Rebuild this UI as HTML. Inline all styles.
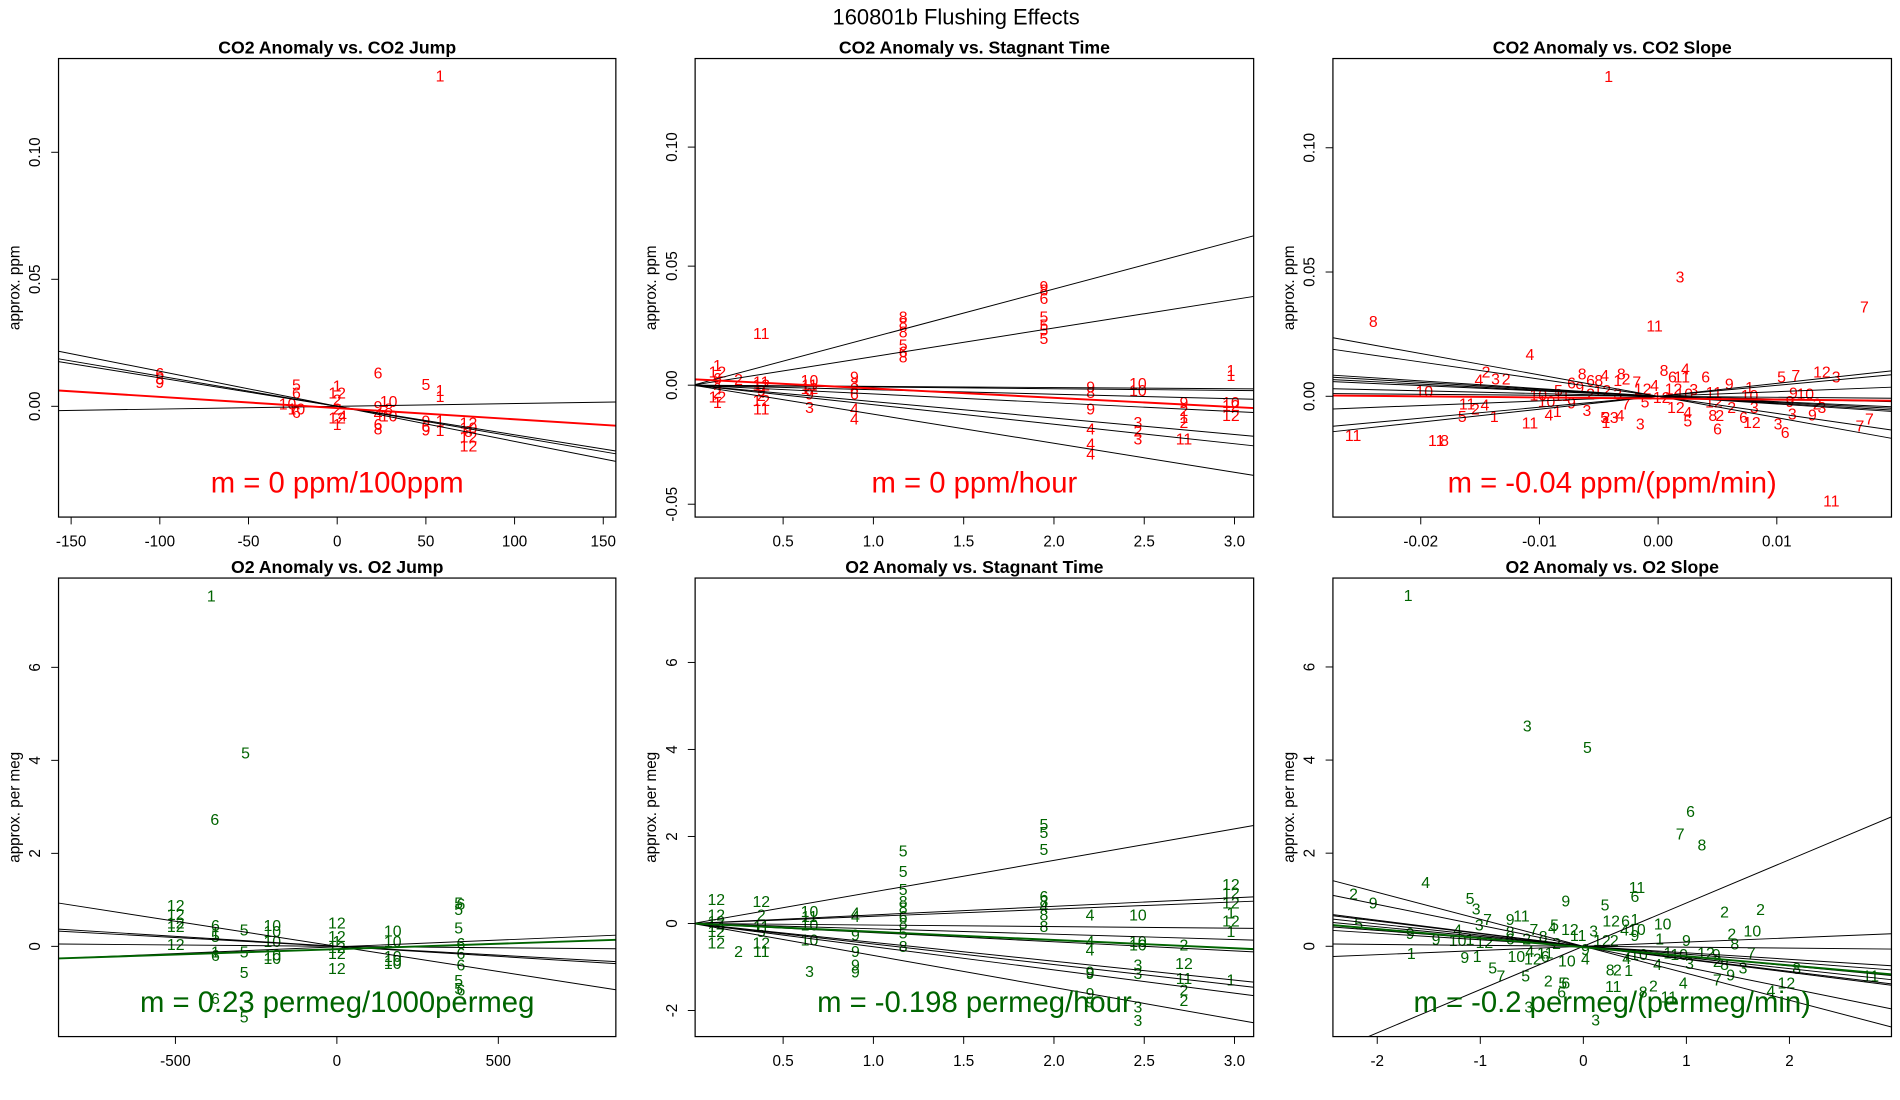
<!DOCTYPE html>
<html><head><meta charset="utf-8"><style>
html,body{margin:0;padding:0;background:#fff;}
svg{display:block;font-family:"Liberation Sans",Arial,sans-serif;}
</style></head><body>
<svg id="chart" width="1900" height="1100" viewBox="0 0 1558 902" preserveAspectRatio="none" xmlns="http://www.w3.org/2000/svg">
<text x="784" y="20" text-anchor="middle" font-size="18">160801b   Flushing Effects</text>
</svg>
<script>
// ---------- Panel 1: CO2 Anomaly vs CO2 Jump ----------
const p1X=[58,-100,-100,-100,-23,-23,-28,-23,-23,0,0,0,0,0,0,3,23,23,23,23,23,29,29,29,50,50,50,50,58,58,58,58,74,74,74,74,74];
const p1Y=[0.130,0.0129,0.0108,0.0094,0.0083,0.0053,0.001,-0.001,-0.0024,0.008,0.0053,0.0025,-0.001,-0.0047,-0.0072,-0.0038,0.0132,0,-0.003,-0.0072,-0.009,0.0018,-0.001,-0.0038,0.0085,-0.0058,-0.0079,-0.0093,0.0063,0.0039,-0.0058,-0.0096,-0.0065,-0.0086,-0.010,-0.012,-0.0156];
const p1L=["1","6","8","9","5","6","10","10","6","1","12","2","2","12","1","4","6","9","4","6","8","10","8","10","5","9","6","9","1","1","1","1","12","10","8","12","12"];
const p1Slopes=[-0.000138,-0.000119,-0.000112,0.0000108];
const p1Ints=[0,0,0,0];
const p1Fit=[-0.0007,-0.0000441];
// ---------- Panel 2: CO2 Anomaly vs Stagnant Time ----------
const p2X=[0.379,0.136,0.136,0.136,0.136,0.136,0.136,0.136,0.253,0.379,0.379,0.379,0.379,0.379,0.379,0.646,0.646,0.646,0.646,0.646,0.895,0.895,0.895,0.895,0.895,0.895,1.165,1.165,1.165,1.165,1.165,1.165,1.944,1.944,1.944,1.944,1.944,1.944,1.944,2.203,2.203,2.203,2.203,2.203,2.203,2.465,2.465,2.465,2.465,2.465,2.72,2.72,2.72,2.72,2.72,2.98,2.98,2.98,2.98,2.98];
const p2Y=[0.0217,0.0083,0.0055,0.0027,0,-0.003,-0.005,-0.0072,0.0024,0.0013,0,-0.0023,-0.0044,-0.0065,-0.010,0.002,0,-0.0015,-0.0037,-0.0093,0.0034,0.0006,-0.0015,-0.0037,-0.010,-0.0142,0.0287,0.0259,0.0224,0.0168,0.014,0.0118,0.0414,0.040,0.0365,0.0287,0.0252,0.0231,0.0196,-0.0008,-0.003,-0.010,-0.0185,-0.0248,-0.029,0.0006,-0.0023,-0.0156,-0.0192,-0.0227,-0.0072,-0.0107,-0.0135,-0.0156,-0.0227,0.0062,0.004,-0.0072,-0.0086,-0.0128];
const p2L=["11","1","12","6","4","2","12","1","2","11","12","9","2","12","11","10","11","12","9","3","9","3","8","6","4","4","8","8","8","5","6","8","9","8","6","5","5","5","5","9","8","9","4","4","4","10","10","3","2","3","9","2","1","2","11","1","1","10","12","12"];
const p2Slopes=[0.0202,0.012,-0.0005,-0.00074,-0.0019,-0.0037,-0.0069,-0.0082,-0.0122];
const p2Ints=[0,0,0,0,0,0,0,0,0];
const p2Fit=[0.0025,-0.0039];
// ---------- Panel 3: CO2 Anomaly vs CO2 Slope ----------
const p3X=[-0.00417,0.00185,0.01738,-0.024,-0.0003,-0.0108,-0.0145,-0.0151,-0.0137,-0.0128,-0.0197,-0.0161,-0.0154,-0.0146,-0.0165,-0.0138,-0.0257,-0.0187,-0.018,-0.0108,-0.0092,-0.0085,-0.0101,-0.0094,-0.0084,-0.0081,-0.0073,-0.0073,-0.0064,-0.0066,-0.0057,-0.005,-0.0045,-0.0057,-0.006,-0.0047,-0.0044,-0.0045,-0.0044,-0.0037,-0.0032,-0.0027,-0.0031,-0.0027,-0.0034,-0.0034,-0.0018,-0.0013,-0.0015,-0.0011,-0.0003,0.0003,0.0005,0.0012,0.002,0.0023,0.0013,0.0022,0.0015,0.0025,0.0025,0.003,0.004,0.0047,0.006,0.0047,0.0046,0.0052,0.005,0.0062,0.0077,0.0077,0.0072,0.0079,0.0081,0.0104,0.0116,0.0138,0.015,0.0114,0.0124,0.0111,0.0134,0.0138,0.013,0.0113,0.0101,0.0107,0.017,0.0178,0.0146];
const p3Y=[0.1287,0.0479,0.036,0.030,0.0283,0.0169,0.0097,0.0066,0.007,0.007,0.0019,-0.0031,-0.0051,-0.0035,-0.0081,-0.0081,-0.0157,-0.0177,-0.0177,-0.0108,-0.0076,-0.0062,0.0005,-0.0022,0.0023,0.0003,0.0054,-0.0027,0.009,0.0036,0.0063,0.0063,0.0084,0.0009,-0.0058,0.0023,-0.0085,-0.0085,-0.0105,-0.0085,-0.0078,-0.0031,0.009,0.007,0.0009,0.0063,0.0057,0.003,-0.0112,-0.0024,0.0043,-0.0004,0.0104,0.0077,0.0077,0.011,0.003,0.0009,-0.0045,-0.0065,-0.0099,0.0027,0.0077,0.0016,0.005,-0.0024,-0.0078,-0.0078,-0.0132,-0.0045,0.0036,0.0003,-0.0085,-0.0105,-0.0045,0.0077,0.0084,0.0097,0.0077,0.0013,0.0009,-0.0022,-0.0031,-0.0045,-0.0076,-0.0072,-0.0112,-0.0146,-0.0119,-0.0092,-0.0422];
const p3L=["1","3","7","8","11","4","2","4","3","2","10","11","2","4","5","1","11","11","8","11","4","1","10","10","5","11","6","9","8","9","6","8","4","2","3","12","2","5","1","3","4","7","8","2","3","1","7","12","3","5","4","12","8","6","11","4","12","10","12","4","5","3","6","11","9","12","8","2","6","2","1","10","6","12","3","5","7","12","3","9","10","9","2","3","9","3","3","6","7","7","11"];
const p3Slopes=[-0.86,-0.69,-0.31,-0.28,-0.245,-0.215,-0.11,-0.04,0.186,0.44,0.52];
const p3Ints=[0,0,0,0,0,0,0,0,0,0,0];
const p3Fit=[-0.0009,-0.044];
// ---------- Panel 4: O2 Anomaly vs O2 Jump ----------
const p4X=[-389,-283,-378,-499,-499,-499,-499,-499,-376,-376,-376,-376,-376,-376,-287,-287,-287,-287,-200,-200,-200,-200,-200,0,0,0,0,0,0,173,173,173,173,173,377,384,377,377,384,384,384,377,377,384];
const p4Y=[7.53,4.16,2.73,0.88,0.68,0.5,0.43,0.04,0.45,0.28,0.21,-0.12,-0.2,-1.12,0.35,-0.12,-0.56,-1.52,0.45,0.32,0.1,-0.19,-0.26,0.5,0.21,0.1,-0.03,-0.15,-0.48,0.33,0.1,-0.22,-0.3,-0.37,0.93,0.91,0.79,0.39,0.06,-0.15,-0.4,-0.73,-0.91,-0.94];
const p4L=["1","5","6","12","12","12","12","12","6","1","5","1","6","6","5","5","5","5","10","10","10","10","10","12","12","1","12","12","12","10","10","10","10","10","5","6","5","5","6","6","6","5","5","6"];
const p4Slopes=[-0.00108,-0.00043,-0.00038,-0.00006,0.00029];
const p4Ints=[0,0,0,0,-0.01];
const p4Fit=[-0.06,0.000232];
// ---------- Panel 5: O2 Anomaly vs Stagnant Time ----------
const p5X=[0.13,0.13,0.13,0.13,0.13,0.13,0.253,0.379,0.379,0.379,0.379,0.379,0.379,0.646,0.646,0.646,0.646,0.646,0.9,0.9,0.9,0.9,0.9,0.9,1.165,1.165,1.165,1.165,1.165,1.165,1.165,1.165,1.165,1.944,1.944,1.944,1.944,1.944,1.944,1.944,1.944,2.2,2.2,2.2,2.2,2.2,2.2,2.2,2.465,2.465,2.465,2.465,2.465,2.465,2.465,2.72,2.72,2.72,2.72,2.72,2.98,2.98,2.98,2.98,2.98,2.98,2.98];
const p5Y=[0.55,0.2,0.05,-0.07,-0.19,-0.45,-0.65,0.51,0.2,-0.07,-0.19,-0.45,-0.65,0.28,0.16,-0.03,-0.38,-1.1,0.24,0.16,-0.26,-0.65,-0.96,-1.11,1.67,1.2,0.78,0.51,0.35,0.16,0,-0.22,-0.53,2.28,2.09,1.7,0.62,0.51,0.39,0.2,-0.07,0.2,-0.42,-0.61,-1.11,-1.15,-1.61,-1.8,0.19,-0.42,-0.49,-0.96,-1.15,-1.92,-2.23,-0.49,-0.92,-1.26,-1.53,-1.77,0.89,0.7,0.47,0.24,0.06,-0.19,-1.3];
const p5L=["12","12","12","14","12","12","2","12","2","11","5","12","11","10","11","10","10","3","4","4","9","9","9","9","5","5","5","8","8","6","8","5","8","5","5","5","6","8","4","8","8","4","4","4","9","9","9","9","10","10","10","3","3","3","3","2","12","11","2","2","12","12","12","1","12","1","1"];
const p5Slopes=[0.725,0.197,0.165,-0.036,-0.123,-0.21,-0.434,-0.472,-0.534,-0.735];
const p5Ints=[0,0,0,0,0,0,0,0,0,0];
const p5Fit=[0,-0.19];
// ---------- Panel 6: O2 Anomaly vs O2 Slope ----------
const p6X=[-1.7,-0.544,0.04,1.04,0.94,1.15,-1.53,-2.23,-2.04,-2.18,-1.68,-1.67,-1.1,-1.04,-0.93,-1.01,-1.22,-1.43,-1.22,-1.1,-0.96,-1.15,-1.03,-0.88,-0.8,-0.71,-0.6,-0.71,-0.71,-0.55,-0.48,-0.39,-0.65,-0.52,-0.49,-0.37,-0.37,-0.56,-0.17,-0.3,-0.28,-0.26,-0.13,-0.05,-0.16,-0.34,-0.2,-0.17,-0.21,-0.53,0.12,0.21,0.27,0.41,0.5,0.52,0.5,0.1,0.18,0.3,0.4,0.52,0.77,0.74,0.5,0.02,0.02,0.26,0.33,0.44,0.42,0.43,0.54,0.29,0.58,0.68,0.72,0.82,0.93,1.03,1.0,0.83,0.97,1.19,1.29,1.3,1.37,1.37,1.72,1.64,1.44,1.47,1.63,1.55,1.3,1.43,2.07,1.97,1.82,2.79];
const p6Y=[7.53,4.73,4.27,2.89,2.41,2.18,1.37,1.12,0.93,0.48,0.27,-0.16,1.03,0.8,0.58,0.46,0.35,0.14,0.12,0.14,0.08,-0.24,-0.22,-0.47,-0.64,0.58,0.65,0.31,0.16,0.16,0.36,0.21,-0.22,-0.11,-0.27,-0.22,-0.14,-0.64,0.97,0.39,0.46,0.06,0.36,0.23,-0.32,-0.75,-0.79,-0.79,-0.98,-1.3,-1.58,0.89,0.54,0.54,0.58,1.26,1.07,0.33,0.12,0.12,0.35,0.36,0.48,0.16,0.23,-0.07,-0.27,-0.51,-0.51,-0.52,-0.26,-0.18,-0.18,-0.86,-0.98,-0.85,-0.39,-0.14,-0.18,-0.37,0.12,-1.09,-0.79,-0.14,-0.18,-0.33,-0.39,0.74,0.79,0.33,0.26,0.05,-0.14,-0.47,-0.73,-0.62,-0.48,-0.79,-0.96,-0.64];
const p6L=["1","3","5","6","7","8","4","2","9","5","9","1","5","3","7","3","4","9","10","1","12","9","1","5","7","9","11","8","6","2","7","8","10","4","12","6","11","5","9","4","5","2","12","11","10","2","5","6","6","3","3","5","12","6","1","11","6","3","12","2","4","10","10","1","9","9","4","8","2","1","4","7","10","11","8","2","4","1","10","3","9","11","4","12","9","2","8","2","2","10","2","8","7","3","7","9","8","12","4","11"];
const p6Slopes=[-0.58,-0.45,-0.28,-0.27,-0.24,-0.21,-0.17,-0.14,-0.02,0.09,0.93];
const p6Ints=[0,0,0,0,0,0,0,0,0,0,0];
const p6Fit=[-0.02,-0.195];

const NS="http://www.w3.org/2000/svg";
const svg=document.getElementById('chart');
function mk(tag,attrs,parent){const e=document.createElementNS(NS,tag);for(const k in attrs)e.setAttribute(k,attrs[k]);(parent||svg).appendChild(e);return e;}

const panels=[
 {id:'p1',title:'CO2 Anomaly vs. CO2 Jump',box:[48,48,505,424],xlim:[-157.1,157.1],ylim:[-0.0436,0.1369],xt:[-150,-100,-50,0,50,100,150],xtl:['-150','-100','-50','0','50','100','150'],yt:[0,0.05,0.10],ytl:['0.00','0.05','0.10'],ylab:'approx. ppm',X:p1X,Y:p1Y,L:p1L,S:p1Slopes,I:p1Ints,F:p1Fit,col:'#ff0000',m:'m = 0 ppm/100ppm'},
 {id:'p2',title:'CO2 Anomaly vs. Stagnant Time',box:[570,48,1028,424],xlim:[0.0126,3.106],ylim:[-0.0554,0.1372],xt:[0.5,1,1.5,2,2.5,3],xtl:['0.5','1.0','1.5','2.0','2.5','3.0'],yt:[-0.05,0,0.05,0.10],ytl:['-0.05','0.00','0.05','0.10'],ylab:'approx. ppm',X:p2X,Y:p2Y,L:p2L,S:p2Slopes,I:p2Ints,F:p2Fit,col:'#ff0000',m:'m = 0 ppm/hour'},
 {id:'p3',title:'CO2 Anomaly vs. CO2 Slope',box:[1093,48,1551,424],xlim:[-0.0274,0.01966],ylim:[-0.0486,0.1359],xt:[-0.02,-0.01,0,0.01],xtl:['-0.02','-0.01','0.00','0.01'],yt:[0,0.05,0.10],ytl:['0.00','0.05','0.10'],ylab:'approx. ppm',X:p3X,Y:p3Y,L:p3L,S:p3Slopes,I:p3Ints,F:p3Fit,col:'#ff0000',m:'m = -0.04 ppm/(ppm/min)'},
 {id:'p4',title:'O2 Anomaly vs. O2 Jump',box:[48,474,505,850],xlim:[-862,864],ylim:[-1.94,7.92],xt:[-500,0,500],xtl:['-500','0','500'],yt:[0,2,4,6],ytl:['0','2','4','6'],ylab:'approx. per meg',X:p4X,Y:p4Y,L:p4L,S:p4Slopes,I:p4Ints,F:p4Fit,col:'#006400',m:'m = 0.23 permeg/1000permeg'},
 {id:'p5',title:'O2 Anomaly vs. Stagnant Time',box:[570,474,1028,850],xlim:[0.0126,3.106],ylim:[-2.6,7.94],xt:[0.5,1,1.5,2,2.5,3],xtl:['0.5','1.0','1.5','2.0','2.5','3.0'],yt:[-2,0,2,4,6],ytl:['-2','0','2','4','6'],ylab:'approx. per meg',X:p5X,Y:p5Y,L:p5L,S:p5Slopes,I:p5Ints,F:p5Fit,col:'#006400',m:'m = -0.198 permeg/hour'},
 {id:'p6',title:'O2 Anomaly vs. O2 Slope',box:[1093,474,1551,850],xlim:[-2.43,2.99],ylim:[-1.94,7.91],xt:[-2,-1,0,1,2],xtl:['-2','-1','0','1','2'],yt:[0,2,4,6],ytl:['0','2','4','6'],ylab:'approx. per meg',X:p6X,Y:p6Y,L:p6L,S:p6Slopes,I:p6Ints,F:p6Fit,col:'#006400',m:'m = -0.2 permeg/(permeg/min)'}
];

panels.forEach(p=>{
 const [x0,y0,x1,y1]=p.box;
 const sx=v=>x0+(v-p.xlim[0])/(p.xlim[1]-p.xlim[0])*(x1-x0);
 const sy=v=>y1-(v-p.ylim[0])/(p.ylim[1]-p.ylim[0])*(y1-y0);
 const g=mk('g',{});
 
 
 const t=mk('text',{x:(x0+x1)/2,y:y0-4,'text-anchor':'middle','font-size':14.5,'font-weight':'bold'},g);
 t.textContent=p.title;
 
 
 const cid='clip-'+p.id;
 const cp=mk('clipPath',{id:cid},g);
 mk('rect',{x:x0,y:y0,width:x1-x0,height:y1-y0},cp);
 const plot=mk('g',{'clip-path':'url(#'+cid+')'},g);
 p.X.forEach((xv,i)=>{
  const e=mk('text',{x:sx(xv),y:sy(p.Y[i])+4.5,'text-anchor':'middle','font-size':13,fill:p.col},plot);
  e.textContent=p.L[i];
  
  
 });
 p.S.forEach((s,i)=>{
  const a=p.I[i];
  const l=mk('line',{x1:sx(p.xlim[0]),y1:sy(a+s*p.xlim[0]),x2:sx(p.xlim[1]),y2:sy(a+s*p.xlim[1]),stroke:'#000','stroke-width':0.8},plot);
  
  
 });
 const fl=mk('line',{x1:sx(p.xlim[0]),y1:sy(p.F[0]+p.F[1]*p.xlim[0]),x2:sx(p.xlim[1]),y2:sy(p.F[0]+p.F[1]*p.xlim[1]),stroke:p.col,'stroke-width':1.6},plot);
 
 
 const mt=mk('text',{x:(x0+x1)/2,y:y1-20,'text-anchor':'middle','font-size':24,fill:p.col},g);
 mt.textContent=p.m;
 
 
 const bx=mk('rect',{x:x0,y:y0,width:x1-x0,height:y1-y0,fill:'none',stroke:'#000','stroke-width':1},g);
 
 
 p.xt.forEach((v,i)=>{
  const X=sx(v);
  mk('line',{x1:X,y1:y1,x2:X,y2:y1+6,stroke:'#000','stroke-width':0.8},g);
  const tl=mk('text',{x:X,y:y1+24,'text-anchor':'middle','font-size':12.5},g);
  tl.textContent=p.xtl[i];
  
  
 });
 p.yt.forEach((v,i)=>{
  const Y=sy(v);
  mk('line',{x1:x0,y1:Y,x2:x0-6,y2:Y,stroke:'#000','stroke-width':0.8},g);
  const tx=x0-15;
  const tl=mk('text',{x:tx,y:Y,'text-anchor':'middle','font-size':12.5,transform:'rotate(-90 '+tx+' '+Y+')'},g);
  tl.textContent=p.ytl[i];
  
  
 });
 const lx=x0-32, ly=(y0+y1)/2;
 const yl=mk('text',{x:lx,y:ly,'text-anchor':'middle','font-size':12.5,transform:'rotate(-90 '+lx+' '+ly+')'},g);
 yl.textContent=p.ylab;
 
 
});
</script>
</body></html>
